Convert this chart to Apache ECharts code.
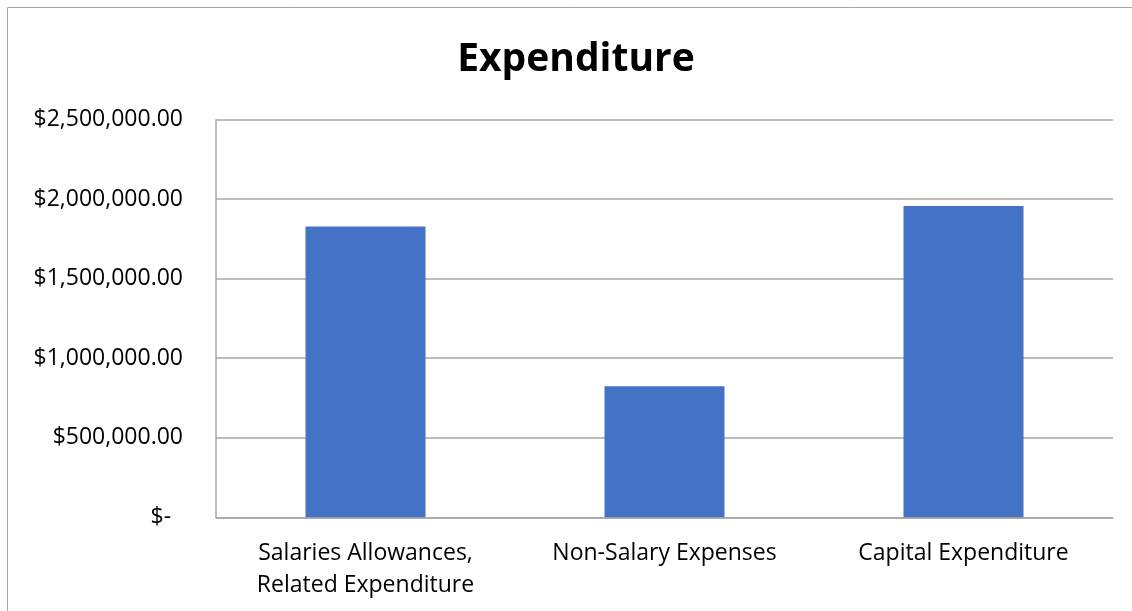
<!DOCTYPE html>
<html>
<head>
<meta charset="utf-8">
<script src="https://cdn.jsdelivr.net/npm/echarts@6/dist/echarts.min.js"></script>
<style>html,body{margin:0;padding:0;background:#fff;overflow:hidden}#c{width:1132px;height:611px}</style>
</head>
<body>
<div id="c"></div>
<script>
const categories = ['Salaries Allowances,\nRelated Expenditure', 'Non-Salary Expenses', 'Capital Expenditure'];
const values = [1828000, 823000, 1956000];
const yTicks = [0, 500000, 1000000, 1500000, 2000000, 2500000];

const FONT = '"Open Sans", "Liberation Sans", sans-serif';
function fmt(v) {
  if (v === 0) return '$-  ';
  return '$' + v.toLocaleString('en-US', {minimumFractionDigits: 2, maximumFractionDigits: 2});
}
const chart = echarts.init(document.getElementById('c'));
chart.setOption({
  animation: false,
  backgroundColor: '#fff',
  title: {
    text: 'Expenditure',
    left: 571, textAlign: 'center', top: 35,
    textStyle: {fontFamily: FONT, fontWeight: 'bold', fontSize: 39, color: '#000'}
  },
  graphic: [{
    type: 'rect', shape: {x: 7.5, y: 7.5, width: 1200, height: 700},
    style: {fill: 'none', stroke: '#A6A6A6', lineWidth: 1}, silent: true
  }],
  grid: {left: 216, right: 19, top: 119.5, bottom: 93.7, containLabel: false},
  xAxis: {
    type: 'category', data: categories,
    axisLine: {lineStyle: {color: '#A6A6A6', width: 1.5}},
    axisTick: {show: false},
    axisLabel: {fontFamily: FONT, fontSize: 23, color: '#000', margin: 20, lineHeight: 32}
  },
  yAxis: {
    type: 'value', min: 0, max: 2500000, interval: 500000,
    axisLine: {show: true, lineStyle: {color: '#A6A6A6', width: 1.5}},
    axisTick: {show: false},
    splitLine: {lineStyle: {color: '#A6A6A6', width: 1.5}},
    axisLabel: {fontFamily: FONT, fontSize: 23, color: '#000', margin: 33, formatter: fmt}
  },
  series: [{
    type: 'bar', data: values, barWidth: 120,
    itemStyle: {color: '#4472C4'}
  }]
});
</script>
</body>
</html>
